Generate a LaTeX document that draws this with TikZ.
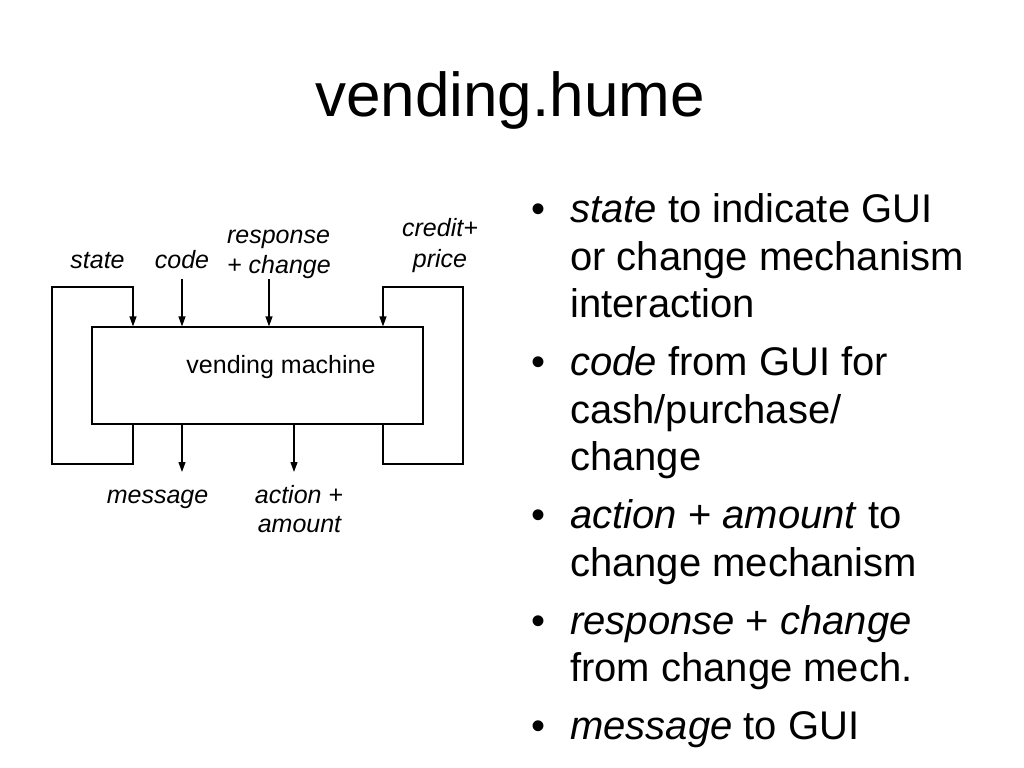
\documentclass[tikz,border=0pt]{standalone}
\usepackage{fontspec}
\setmainfont{Liberation Sans}
\usetikzlibrary{arrows.meta}
\begin{document}
\begin{tikzpicture}[x=1bp,y=-1bp,
  lbl/.style={inner sep=0pt,anchor=base,font=\fontsize{25bp}{30bp}\selectfont\itshape},
  bodytxt/.style={inner sep=0pt,anchor=base west,font=\fontsize{40bp}{48bp}\selectfont},
  bul/.style={inner sep=0pt,anchor=base,font=\fontsize{40bp}{48bp}\selectfont},
  arr/.style={line width=1.2bp,-{Triangle[width=7bp,length=10bp]}},
  ln/.style={line width=1.2bp}]
\fill[white] (0,0) rectangle (1024,768);
\useasboundingbox (0,0) rectangle (1024,768);
% title
\node[inner sep=0pt,anchor=base,font=\fontsize{62bp}{70bp}\selectfont] (title) at (510,116.7) {vending.hume};
% box
\node[draw,line width=1.2bp,minimum width=331bp,minimum height=97bp,inner sep=0pt] (vm) at (257.5,375.5) {};
\node[inner sep=0pt,anchor=base,font=\fontsize{25bp}{30bp}\selectfont] (vmtext) at (281,373) {vending machine};
% labels
\node[lbl] (lstate) at (97.5,268) {state};
\node[lbl] (lcode) at (182,268) {code};
\node[lbl] (lresp1) at (278.5,243) {response};
\node[lbl] (lresp2) at (279,273) {+ change};
\node[lbl] (lcred1) at (440,236) {credit+};
\node[lbl] (lcred2) at (440,267) {price};
\node[lbl] (lmsg) at (157.5,503) {message};
\node[lbl] (lact1) at (299,503) {action +};
\node[lbl] (lact2) at (299.5,532) {amount};
% connector coordinates
\coordinate (st) at (133,287);
\coordinate (lb) at (52,464);
\coordinate (cr) at (383,287);
\coordinate (rb) at (463,464);
\coordinate (codein) at (182,279);
\coordinate (respin) at (269,279);
\coordinate (msgout) at (182,472);
\coordinate (actout) at (294,472);
% loops
\draw[arr] (st |- vm.south) |- (lb) |- (st) -- (st |- vm.north);
\draw[arr] (cr |- vm.south) |- (rb) |- (cr) -- (cr |- vm.north);
% inputs
\draw[arr] (codein) -- (codein |- vm.north);
\draw[arr] (respin) -- (respin |- vm.north);
% outputs
\draw[arr] (msgout |- vm.south) -- (msgout);
\draw[arr] (actout |- vm.south) -- (actout);
% bullets
\node[bul] (b1) at (538,222.5) {•};
\node[bodytxt] (t1a) at (570,222.5) {\textit{state} to indicate GUI};
\node[bodytxt] (t1b) at (570,270) {or change mechanism};
\node[bodytxt] (t1c) at (570,317.5) {interaction};
\node[bul] (b2) at (538,375.5) {•};
\node[bodytxt] (t2a) at (570,375.5) {\textit{code} from GUI for};
\node[bodytxt] (t2b) at (570,423) {cash/purchase/};
\node[bodytxt] (t2c) at (570,470.5) {change};
\node[bul] (b3) at (538,528.5) {•};
\node[bodytxt] (t3a) at (570,528.5) {\textit{action} + \textit{amount} to};
\node[bodytxt] (t3b) at (570,576.5) {change mechanism};
\node[bul] (b4) at (538,634) {•};
\node[bodytxt] (t4a) at (570,634) {\textit{response} + \textit{change}};
\node[bodytxt] (t4b) at (570,681.5) {from change mech.};
\node[bul] (b5) at (538,739) {•};
\node[bodytxt] (t5a) at (570,739) {\textit{message} to GUI};
\end{tikzpicture}
\end{document}
